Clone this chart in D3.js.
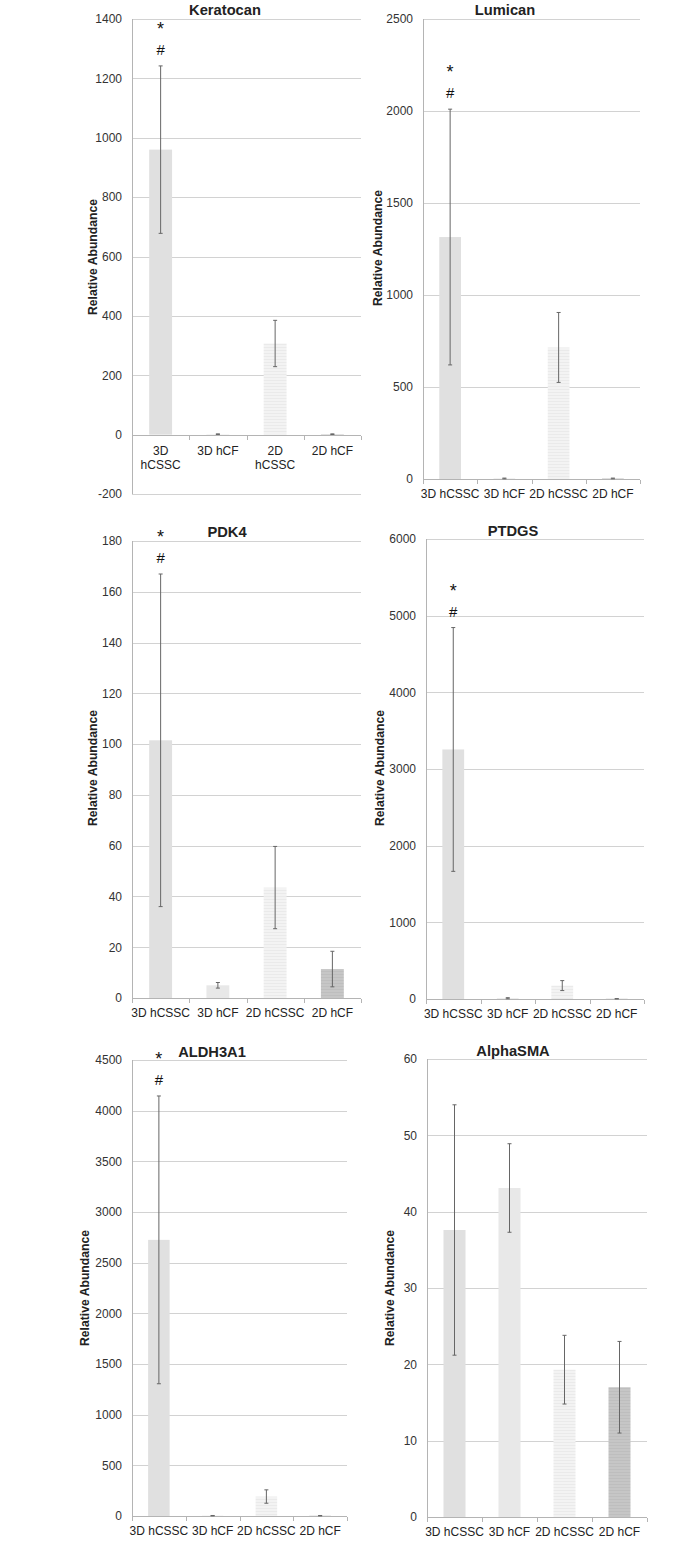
<!DOCTYPE html>
<html lang="en">
<head>
<meta charset="utf-8">
<title>Relative abundance - six genes</title>
<style>
body { margin: 0; background: #fff; }
svg text { font-family: "Liberation Sans", Arial, sans-serif; fill: #222; }
.title { font-weight: bold; font-size: 14.7px; }
.ylab { font-weight: bold; font-size: 12.2px; }
.tick-lab { font-size: 12px; fill: #333; }
.cat-lab { font-size: 12px; fill: #222; }
.grid { stroke: #d2d2d2; stroke-width: 1; shape-rendering: crispEdges; }
.axis-line { stroke: #b4b4b4; stroke-width: 1; shape-rendering: crispEdges; }
.err { stroke: #666; stroke-width: 1; }
.sig { font-size: 15px; fill: #111; }
</style>
</head>
<body>
<div id="chart"></div>
<script src="https://cdn.jsdelivr.net/npm/d3@7"></script>
<script>
// categories (same for every panel)
var categories = ["3D hCSSC", "3D hCF", "2D hCSSC", "2D hCF"];

// means and error (SD) per gene
var keratocanMean = [960, 1.5, 307, 1.5];
var keratocanErr  = [282, 1, 78, 1];
var keratocanTicks = [-200, 0, 200, 400, 600, 800, 1000, 1200, 1400];

var lumicanMean = [1315, 3, 715, 3];
var lumicanErr  = [695, 2, 190, 2];
var lumicanTicks = [0, 500, 1000, 1500, 2000, 2500];

var pdk4Mean = [101.5, 5.0, 43.5, 11.4];
var pdk4Err  = [65.5, 1.1, 16.2, 7.0];
var pdk4Ticks = [0, 20, 40, 60, 80, 100, 120, 140, 160, 180];

var ptdgsMean = [3255, 10, 175, 3];
var ptdgsErr  = [1590, 7, 65, 2];
var ptdgsTicks = [0, 1000, 2000, 3000, 4000, 5000, 6000];

var aldhMean = [2725, 3, 192, 3];
var aldhErr  = [1420, 2, 66, 2];
var aldhTicks = [0, 500, 1000, 1500, 2000, 2500, 3000, 3500, 4000, 4500];

var smaMean = [37.6, 43.1, 19.3, 17.0];
var smaErr  = [16.4, 5.8, 4.5, 6.0];
var smaTicks = [0, 10, 20, 30, 40, 50, 60];

// marks drawn over the first bar of the significant panels
var sigMarks = ["*", "#"];

var panels = [
  { title: "Keratocan", mean: keratocanMean, err: keratocanErr, ticks: keratocanTicks, sig: true, wrap: true,
    x0: 132, x1: 361, yTop: 19, yBot: 494, titleX: 225, titleY: 15, labX: 97, labY: 257 },
  { title: "Lumican", mean: lumicanMean, err: lumicanErr, ticks: lumicanTicks, sig: true, wrap: false,
    x0: 423, x1: 640, yTop: 19, yBot: 479, titleX: 505, titleY: 15, labX: 382, labY: 248 },
  { title: "PDK4", mean: pdk4Mean, err: pdk4Err, ticks: pdk4Ticks, sig: true, wrap: false,
    x0: 132, x1: 361, yTop: 541, yBot: 998, titleX: 227, titleY: 537, labX: 97, labY: 768 },
  { title: "PTDGS", mean: ptdgsMean, err: ptdgsErr, ticks: ptdgsTicks, sig: true, wrap: false,
    x0: 426, x1: 644, yTop: 539, yBot: 999, titleX: 513, titleY: 536, labX: 384, labY: 768 },
  { title: "ALDH3A1", mean: aldhMean, err: aldhErr, ticks: aldhTicks, sig: true, wrap: false,
    x0: 132, x1: 347, yTop: 1060, yBot: 1516, titleX: 212, titleY: 1057, labX: 89, labY: 1288 },
  { title: "AlphaSMA", mean: smaMean, err: smaErr, ticks: smaTicks, sig: false, wrap: false,
    x0: 427, x1: 647, yTop: 1059, yBot: 1517, titleX: 513, titleY: 1056, labX: 394, labY: 1288 }
];

var svg = d3.select("#chart").append("svg")
    .attr("width", 700)
    .attr("height", 1541);

// bar fills: two flat greys, two lightly striped ones
var defs = svg.append("defs");
function stripes(id, bg, line) {
  var p = defs.append("pattern")
      .attr("id", id)
      .attr("patternUnits", "userSpaceOnUse")
      .attr("width", 4).attr("height", 3);
  p.append("rect").attr("width", 4).attr("height", 3).attr("fill", bg);
  p.append("rect").attr("y", 2).attr("width", 4).attr("height", 1).attr("fill", line);
}
stripes("st3", "#f3f3f3", "#eaeaea");
stripes("st4", "#c6c6c6", "#bebebe");
var fills = ["#e0e0e0", "#e8e8e8", "url(#st3)", "url(#st4)"];

panels.forEach(function(p) {
  var g = svg.append("g");

  var y = d3.scaleLinear()
      .domain([p.ticks[0], p.ticks[p.ticks.length - 1]])
      .range([p.yBot, p.yTop]);
  var x = d3.scaleBand()
      .domain(categories)
      .range([p.x0, p.x1])
      .paddingInner(0.6)
      .paddingOuter(0.3);

  // gridlines
  g.selectAll(".grid")
    .data(p.ticks.filter(function(t) { return t !== 0; }))
    .enter().append("line")
    .attr("class", "grid")
    .attr("x1", p.x0).attr("x2", p.x1)
    .attr("y1", function(d) { return Math.round(y(d)) + 0.5; })
    .attr("y2", function(d) { return Math.round(y(d)) + 0.5; });

  // y axis (labels only, line drawn separately)
  var yAxis = g.append("g")
      .attr("transform", "translate(" + p.x0 + ",0)")
      .call(d3.axisLeft(y).tickValues(p.ticks).tickSize(0).tickPadding(10)
        .tickFormat(function(d) { return String(d); }));
  yAxis.select(".domain").remove();
  yAxis.selectAll("text").attr("class", "tick-lab").attr("font-family", null).attr("font-size", null);

  g.append("line")
    .attr("class", "axis-line")
    .attr("x1", p.x0 + 0.5).attr("x2", p.x0 + 0.5)
    .attr("y1", p.yTop).attr("y2", p.yBot);

  // bars
  g.selectAll(".bar")
    .data(p.mean)
    .enter().append("rect")
    .attr("class", "bar")
    .attr("x", function(d, i) { return x(categories[i]); })
    .attr("width", x.bandwidth())
    .attr("y", function(d) { return y(d); })
    .attr("height", function(d) { return y(0) - y(d); })
    .attr("fill", function(d, i) { return fills[i]; });

  // x axis line at zero with ticks at category borders
  var y0 = Math.round(y(0)) + 0.5;
  g.append("line")
    .attr("class", "axis-line")
    .attr("x1", p.x0).attr("x2", p.x1)
    .attr("y1", y0).attr("y2", y0);
  var borders = categories.map(function(c) { return x(c) - x.step() * 0.3; });
  borders.push(p.x1);
  g.selectAll(".xtick")
    .data(borders)
    .enter().append("line")
    .attr("class", "axis-line")
    .attr("x1", function(d) { return Math.round(d) + 0.5; })
    .attr("x2", function(d) { return Math.round(d) + 0.5; })
    .attr("y1", y0).attr("y2", y0 + 4);

  // error bars
  var cap = 2;
  var eb = g.selectAll(".eb")
    .data(p.mean)
    .enter().append("g");
  eb.append("line")
    .attr("class", "err")
    .attr("x1", function(d, i) { return x(categories[i]) + x.bandwidth() / 2; })
    .attr("x2", function(d, i) { return x(categories[i]) + x.bandwidth() / 2; })
    .attr("y1", function(d, i) { return y(d + p.err[i]); })
    .attr("y2", function(d, i) { return y(d - p.err[i]); });
  [1, -1].forEach(function(s) {
    eb.append("line")
      .attr("class", "err")
      .attr("x1", function(d, i) { return x(categories[i]) + x.bandwidth() / 2 - cap; })
      .attr("x2", function(d, i) { return x(categories[i]) + x.bandwidth() / 2 + cap; })
      .attr("y1", function(d, i) { return y(d + s * p.err[i]); })
      .attr("y2", function(d, i) { return y(d + s * p.err[i]); });
  });

  // category labels
  var cats = g.selectAll(".cat")
    .data(categories)
    .enter().append("text")
    .attr("class", "cat-lab")
    .attr("text-anchor", "middle")
    .attr("x", function(d) { return x(d) + x.bandwidth() / 2; })
    .attr("y", y(0) + 19);
  if (p.wrap) {
    cats.each(function(d) {
      var words = d === "3D hCF" || d === "2D hCF" ? [d] : d.split(" ");
      var t = d3.select(this);
      words.forEach(function(w, k) {
        t.append("tspan")
          .attr("x", t.attr("x"))
          .attr("dy", k === 0 ? 1 : 14.5)
          .text(w);
      });
    });
  } else {
    cats.text(function(d) { return d; });
  }

  // title
  g.append("text")
    .attr("class", "title")
    .attr("text-anchor", "middle")
    .attr("x", p.titleX).attr("y", p.titleY)
    .text(p.title);

  // y axis title
  g.append("text")
    .attr("class", "ylab")
    .attr("text-anchor", "middle")
    .attr("transform", "translate(" + p.labX + "," + p.labY + ") rotate(-90)")
    .text("Relative Abundance");

  // significance marks above first bar
  if (p.sig) {
    var cx = x(categories[0]) + x.bandwidth() / 2;
    var topY = y(p.mean[0] + p.err[0]);
    g.selectAll(".sig")
      .data(sigMarks)
      .enter().append("text")
      .attr("class", "sig")
      .attr("text-anchor", "middle")
      .attr("x", cx)
      .attr("y", function(d, i) { return i === 0 ? topY - 31 : topY - 11; })
      .style("font-size", function(d, i) { return i === 0 ? "18px" : "15px"; })
      .text(function(d) { return d; });
  }
});
</script>
</body>
</html>
